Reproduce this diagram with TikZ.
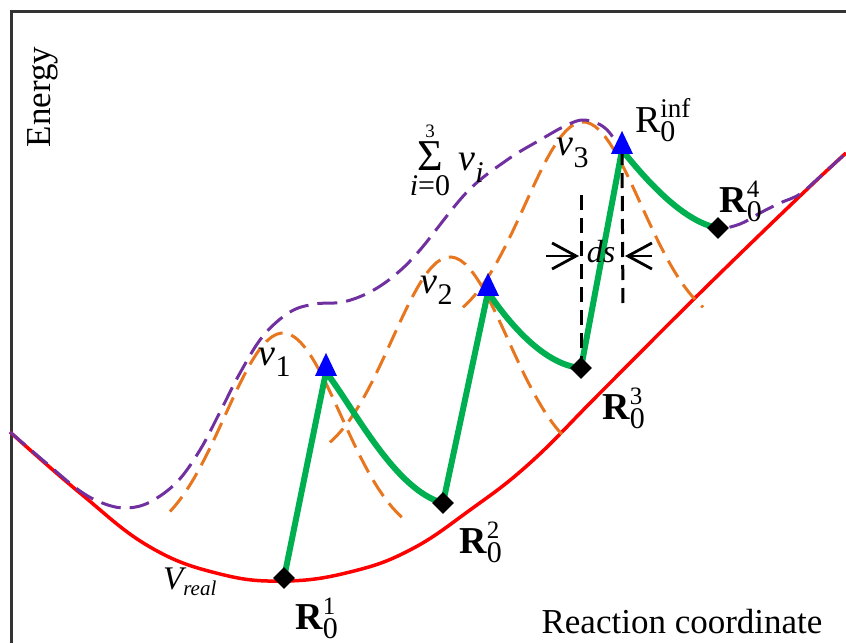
\documentclass[tikz,border=0pt]{standalone}
\usepackage{amsmath}
\usepackage{fontspec}
\setmainfont{Liberation Serif}
\usetikzlibrary{arrows.meta,shapes.geometric}

\newcommand{\subsz}[1]{\text{\fontsize{30}{30}\selectfont #1}}
\newcommand{\supsz}[1]{\text{\fontsize{25}{25}\selectfont #1}}

\definecolor{vred}{RGB}{255,0,0}
\definecolor{pathgreen}{RGB}{0,176,80}
\definecolor{biasorange}{RGB}{232,118,30}
\definecolor{sumpurple}{RGB}{112,48,160}

\tikzset{
  vreal/.style={draw=vred,line width=3.5pt},
  bias/.style={draw=biasorange,line width=3pt,dash pattern=on 19pt off 9pt},
  biassum/.style={draw=sumpurple,line width=3pt,dash pattern=on 20pt off 9pt},
  mep/.style={draw=pathgreen,line width=6pt,line join=round},
  rstate/.style={diamond,fill=black,inner sep=0pt,minimum size=22pt},
  tpeak/.style={isosceles triangle,shape border rotate=90,isosceles triangle stretches,
    fill=blue,inner sep=0pt,minimum width=22pt,minimum height=23pt},
  guide/.style={black,line width=3pt,dash pattern=on 15pt off 8pt},
  lbl/.style={font=\fontsize{38}{40}\selectfont,inner sep=0pt},
}

\begin{document}
\begin{tikzpicture}[x=1pt,y=-1pt]
  \useasboundingbox (0,0) rectangle (846,643);
  \draw[black!80,line width=3pt] (11,643) -- (11,11) -- (846,11);

  % images on the path
  \coordinate (p1) at (284,578);
  \coordinate (p2) at (443,503);
  \coordinate (p3) at (581,368);
  \coordinate (p4) at (718,228);
  \coordinate (q1) at (326,372);
  \coordinate (q2) at (488,292);
  \coordinate (q3) at (622,150);

  % real potential
  \draw[vreal] plot[smooth,tension=0.7] coordinates {(10,432) (80,493) (150,547)
    (220,574) (285,581) (350,572) (410,550) (470,510) (530,463) (600,393) (700,293)
    (800,196) (846,153)};

  % bias potentials
  \draw[bias] plot[domain=-113:124,samples=50] ({283+\x},{543-210*exp(-(\x*\x)/6728)});
  \draw[bias] plot[domain=-120:117,samples=50] ({450+\x},{467-210*exp(-(\x*\x)/6728)});
  \draw[bias] plot[domain=-120:120,samples=50] ({583+\x},{332-210*exp(-(\x*\x)/6728)});

  % sum of the bias potentials
  \draw[biassum] plot[smooth,tension=0.6] coordinates {(10,432) (45,462) (80,491)
    (105,504) (127,508) (150,502) (177,482) (200,450) (220,412) (240,373) (263,336)
    (290,312) (315,304) (343,302) (370,292) (395,275) (420,250) (467,192) (507,160)
    (540,140) (567,125) (585,120) (605,128) (622,150) (644,176) (668,200) (693,218)
    (718,228) (740,224) (760,213) (780,203) (800,194) (823,174) (846,153)};

  % path of the images
  \draw[mep] (p1) -- (q1) .. controls (355,410) and (395,490) .. (p2)
    -- (q2) .. controls (510,325) and (545,365) .. (p3)
    -- (q3) .. controls (650,185) and (685,222) .. (p4);

  % step width
  \coordinate (dsL) at (581,195);
  \coordinate (dsR) at (623,310);
  \coordinate (aL) at (546,256);
  \coordinate (aR) at (652,256);
  \draw[guide] (dsL) -- (p3);
  \draw[guide] (q3) -- (dsR);
  \draw[line width=2.8pt,-{Straight Barb[length=24pt,width=26pt]}] (aL) -- (579,256);
  \draw[line width=2.8pt,-{Straight Barb[length=24pt,width=26pt]}] (aR) -- (625,256);
  \node[lbl,font=\fontsize{32}{34}\selectfont\itshape] (ds) at (601,252) {ds};

  \node[rstate] (R1) at (p1) {};
  \node[rstate] (R2) at (p2) {};
  \node[rstate] (R3) at (p3) {};
  \node[rstate] (R4) at (p4) {};
  \node[tpeak] (T1) at ([yshift=3pt]q1) {};
  \node[tpeak] (T2) at ([yshift=3pt]q2) {};
  \node[tpeak] (T3) at ([yshift=3pt]q3) {};

  \node[lbl] (r1) at (317,618) {$\textbf{R}_{\subsz{0}}^{\supsz{1}}$};
  \node[lbl] (r2) at (481,542) {$\textbf{R}_{\subsz{0}}^{\supsz{2}}$};
  \node[lbl] (r3) at (624,408) {$\textbf{R}_{\subsz{0}}^{\supsz{3}}$};
  \node[lbl] (r4) at (741,201) {$\textbf{R}_{\subsz{0}}^{\supsz{4}}$};
  \node[lbl] (rinf) at (663,120) {$\text{R}_{\subsz{0}}^{\text{\fontsize{27}{27}\selectfont inf}}$};

  \node[lbl] (v1) at (275,362) {$\text{\itshape v}_{\subsz{1}}$};
  \node[lbl] (v2) at (437,290) {$\text{\itshape v}_{\subsz{2}}$};
  \node[lbl] (v3) at (573,153) {$\text{\itshape v}_{\subsz{3}}$};
  \node[lbl] (vsum) at (447,160) {$\mathop{\text{\fontsize{44}{44}\selectfont Σ}}\limits_{\subsz{\itshape i\upshape =0}}^{\text{\fontsize{19}{19}\selectfont 3}}
    \,\text{\itshape v}_{\subsz{\itshape i}}$};
  \node[lbl] (vreal) at (190,582)
    {$\text{\fontsize{33}{33}\selectfont\itshape V}_{\text{\fontsize{21}{21}\selectfont\itshape real}}$};

  \node[lbl,font=\fontsize{35}{38}\selectfont,rotate=90] (energy) at (43,97) {Energy};
  \node[lbl,font=\fontsize{35}{38}\selectfont] (rc) at (682,622) {Reaction coordinate};
\end{tikzpicture}
\end{document}
